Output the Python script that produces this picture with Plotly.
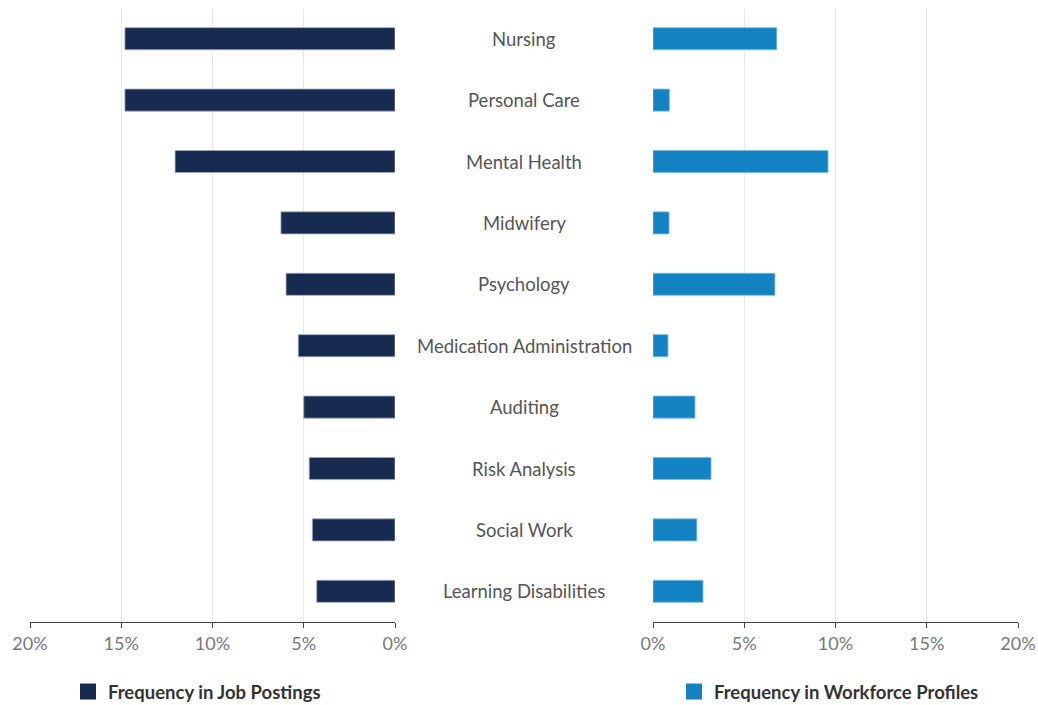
import plotly.graph_objects as go

categories = ["Nursing", "Personal Care", "Mental Health", "Midwifery", "Psychology",
              "Medication Administration", "Auditing", "Risk Analysis", "Social Work",
              "Learning Disabilities"]
job_postings = [14.8, 14.8, 12.05, 6.25, 5.97, 5.3, 5.0, 4.7, 4.53, 4.29]
workforce_profiles = [6.78, 0.9, 9.59, 0.88, 6.68, 0.82, 2.3, 3.18, 2.4, 2.74]
tick_vals = [0, 5, 10, 15, 20]
tick_text = ["0%", "5%", "10%", "15%", "20%"]
series_names = ["Frequency in Job Postings", "Frequency in Workforce Profiles"]
series_colors = ["#172A4F", "#1383C3"]

W, H = 1038, 705
FONT = "Lato, 'Open Sans', sans-serif"

fig = go.Figure()
fig.add_trace(go.Bar(
    y=categories, x=job_postings, orientation="h", name=series_names[0],
    marker=dict(color=series_colors[0], line=dict(color="rgba(160,170,190,0.8)", width=1)),
    width=0.36, xaxis="x", yaxis="y", showlegend=False,
))
fig.add_trace(go.Bar(
    y=categories, x=workforce_profiles, orientation="h", name=series_names[1],
    marker=dict(color=series_colors[1], line=dict(color="rgba(120,190,230,0.8)", width=1)),
    width=0.36, xaxis="x2", yaxis="y2", showlegend=False,
))
# legend entries with larger square swatches
for name, col, lg, xa, ya in zip(series_names, series_colors, ["legend", "legend2"],
                                 ["x", "x2"], ["y", "y2"]):
    fig.add_trace(go.Scatter(
        x=[None], y=[None], mode="markers", name=name, legend=lg, xaxis=xa, yaxis=ya,
        marker=dict(symbol="square", size=16, color=col), showlegend=True,
    ))

axis_common = dict(
    tickvals=tick_vals, ticktext=tick_text, showgrid=True, gridcolor="#e8e8e8", gridwidth=1,
    showline=True, linecolor="#444", linewidth=1, ticks="outside", ticklen=5, tickcolor="#444",
    tickfont=dict(family=FONT, size=18, color="#777"), zeroline=False, fixedrange=True,
)

legend_font = dict(family=FONT, size=18.5, color="#333", weight="bold")

fig.update_layout(
    width=W, height=H,
    margin=dict(l=0, r=0, t=0, b=0, autoexpand=False),
    paper_bgcolor="white", plot_bgcolor="white",
    bargap=0.64,
    xaxis=dict(domain=[30 / W, 395 / W], range=[20, 0], anchor="y", **axis_common),
    xaxis2=dict(domain=[653 / W, 1018 / W], range=[0, 20], anchor="y2", **axis_common),
    yaxis=dict(domain=[1 - 622 / H, 1 - 8 / H], autorange="reversed", showticklabels=False,
               showgrid=False, zeroline=False, anchor="x", categoryorder="array",
               categoryarray=categories, fixedrange=True),
    yaxis2=dict(domain=[1 - 622 / H, 1 - 8 / H], autorange="reversed", showticklabels=False,
                showgrid=False, zeroline=False, anchor="x2", categoryorder="array",
                categoryarray=categories, fixedrange=True),
    legend=dict(x=68 / W, y=1 - 692 / H, xanchor="left", yanchor="middle", orientation="h",
                font=legend_font, bgcolor="rgba(0,0,0,0)"),
    legend2=dict(x=674 / W, y=1 - 692 / H, xanchor="left", yanchor="middle", orientation="h",
                 font=legend_font, bgcolor="rgba(0,0,0,0)"),
    showlegend=True,
)

for c in categories:
    fig.add_annotation(x=524 / W, xref="paper", y=c, yref="y", text=c, showarrow=False,
                       xanchor="center", yanchor="middle",
                       font=dict(family=FONT, size=18.5, color="#555"))

fig.write_html("out.html", config={"displayModeBar": False},
               post_script="document.body.style.margin='0';document.body.style.overflow='hidden';")
